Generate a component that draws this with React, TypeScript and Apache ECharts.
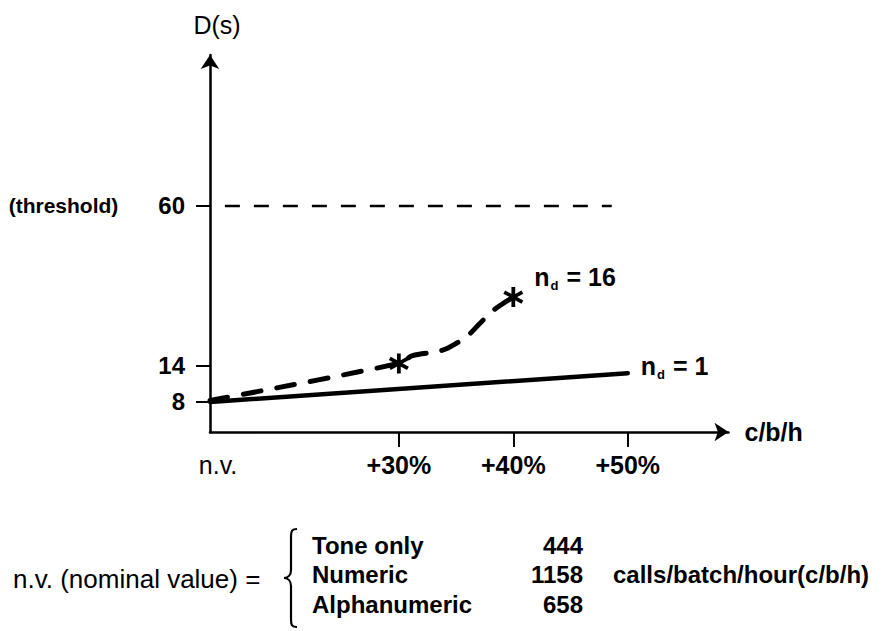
import React, { useEffect, useRef } from 'react';
import * as echarts from 'echarts';

const FONT = '"Liberation Sans", Arial, Helvetica, sans-serif';

// x: increase of the offered load (c/b/h) over the nominal value, in %
// y: delay D in seconds (the axis is drawn on a square-root scale)
const xTickValues = [0, 30, 40, 50];
const xTickLabels = ['n.v.', '+30%', '+40%', '+50%'];
const xTickMarks = [30, 40, 50];
const yTickValues = [8, 14, 60];
const thresholdValue = 60;
const thresholdLabel = '(threshold)';
const thresholdSpan = [1.3, 48.6];

const nd1X = [0, 50];
const nd1Y = [8, 12.6];

const nd16X = [0, 30, 31.2, 33.3, 34.3, 35.9, 37, 38.3, 40];
const nd16Y = [8.2, 14.4, 15.9, 16.7, 17.5, 19.9, 22.8, 26.4, 29.8];
const nd16Stars = [30, 40];

const nvRows = ['Tone only', 'Numeric', 'Alphanumeric'];
const nvValues = [444, 1158, 658];
const nvLead = 'n.v. (nominal value) =';
const nvUnit = 'calls/batch/hour(c/b/h)';

const STAR =
  'path://M8.2 0H11.8V20H8.2Z M2.24 3.44L19.56 13.44L17.76 16.56L0.44 6.56Z M19.56 6.56L2.24 16.56L0.44 13.44L17.76 3.44Z';

const BRACE =
  'M14 1 C9 1 8 3 8 8 L8 42 C8 47 5 50 1 50 C5 50 8 53 8 58 L8 92 C8 97 9 99 14 99';
echarts.graphic.registerShape('brace', echarts.graphic.extendPath(BRACE, {}));

const sq = (v: number) => Math.sqrt(v);
const yMin = 4.3;
const yMax = 133;
const xMin = 0;
const xMax = 58.8;

const ndRich = {
  n: { fontFamily: FONT, fontSize: 25, fontWeight: 'bold', color: '#000' },
  d: { fontFamily: FONT, fontSize: 13, fontWeight: 'bold', color: '#000', padding: [16, 1, 0, 1] },
  t: { fontFamily: FONT, fontSize: 25, fontWeight: 'bold', color: '#000' },
};

const axisLineStyle = { color: '#000', width: 2.5 };

function buildOption() {
  const nd16Data = nd16X.map((x, i) => [x, sq(nd16Y[i])]);
  const starData = nd16Data.filter((p) => nd16Stars.indexOf(p[0]) >= 0);

  const rowY = (i: number) => 545 + i * 29.5;
  const graphics: any[] = [
    {
      type: 'text',
      x: 13,
      y: 579,
      style: { text: nvLead, fontFamily: FONT, fontSize: 26, fontWeight: 'normal', fill: '#000', align: 'left', verticalAlign: 'middle' },
    },
    {
      type: 'brace',
      x: 283,
      y: 528,
      style: { fill: 'none', stroke: '#000', lineWidth: 2.2 },
    },
    {
      type: 'text',
      x: 613,
      y: 574,
      style: { text: nvUnit, fontFamily: FONT, fontSize: 24, fontWeight: 'bold', fill: '#000', align: 'left', verticalAlign: 'middle' },
    },
  ];
  nvRows.forEach((r, i) => {
    graphics.push({
      type: 'text',
      x: 312,
      y: rowY(i),
      style: { text: r, fontFamily: FONT, fontSize: 24, fontWeight: 'bold', fill: '#000', align: 'left', verticalAlign: 'middle' },
    });
    graphics.push({
      type: 'text',
      x: 583,
      y: rowY(i),
      style: { text: String(nvValues[i]), fontFamily: FONT, fontSize: 24, fontWeight: 'bold', fill: '#000', align: 'right', verticalAlign: 'middle' },
    });
  });

  return {
    animation: false,
    backgroundColor: '#fff',
    textStyle: { fontFamily: FONT, color: '#000' },
    grid: { left: 210, right: 156.5, top: 55, bottom: 199 },
    xAxis: [
      {
        type: 'value',
        min: xMin,
        max: xMax,
        position: 'bottom',
        breaks: [{ start: 2, end: 28, gap: 12.5 }],
        breakArea: { show: false },
        axisLine: { show: false, onZero: false },
        axisTick: { show: true, customValues: xTickMarks, length: 15, lineStyle: { color: '#000', width: 2 } },
        axisLabel: {
          customValues: xTickValues,
          margin: 20,
          formatter: (v: number) => {
            const i = xTickValues.indexOf(Math.round(v));
            if (i < 0) return '';
            return i === 0 ? `{nv|${xTickLabels[i]}}` : `{b|${xTickLabels[i]}}`;
          },
          rich: {
            nv: { fontFamily: FONT, fontSize: 25, fontWeight: 'normal', color: '#000', padding: [0, 0, 0, 16] },
            b: { fontFamily: FONT, fontSize: 25, fontWeight: 'bold', color: '#000' },
          },
        },
        splitLine: { show: false },
      },
      {
        // continuous axis line with the arrow, drawn over the broken scale
        type: 'value',
        min: xMin,
        max: xMax,
        position: 'bottom',
        name: 'c/b/h',
        nameLocation: 'end',
        nameGap: 16,
        nameTextStyle: { fontFamily: FONT, fontSize: 25, fontWeight: 'bold', color: '#000', align: 'left', verticalAlign: 'middle' },
        axisLine: { show: true, onZero: false, symbol: ['none', 'arrow'], symbolSize: [14, 14], lineStyle: axisLineStyle },
        axisTick: { show: false },
        axisLabel: { show: false },
        splitLine: { show: false },
      },
    ],
    yAxis: {
      type: 'value',
      min: sq(yMin),
      max: sq(yMax),
      name: 'D(s)',
      nameLocation: 'end',
      nameGap: 18,
      nameTextStyle: { fontFamily: FONT, fontSize: 25, fontWeight: 'normal', color: '#000', padding: [0, 0, 0, 14] },
      axisLine: { show: true, onZero: false, symbol: ['none', 'arrow'], symbolSize: [14, 14], lineStyle: axisLineStyle },
      axisTick: { show: true, customValues: yTickValues.map(sq), length: 14, lineStyle: { color: '#000', width: 2 } },
      axisLabel: {
        customValues: yTickValues.map(sq),
        margin: 25,
        fontFamily: FONT,
        fontWeight: 'bold',
        fontSize: 24,
        color: '#000',
        formatter: (v: number) => {
          const d = Math.round(v * v);
          return d === thresholdValue ? `{t|${thresholdLabel}}{b|${d}}` : `{b|${d}}`;
        },
        rich: {
          t: { fontFamily: FONT, fontSize: 21, fontWeight: 'bold', color: '#000', padding: [0, 40, 0, 0] },
          b: { fontFamily: FONT, fontSize: 24, fontWeight: 'bold', color: '#000' },
        },
      },
      splitLine: { show: false },
    },
    series: [
      {
        type: 'line',
        name: 'threshold',
        data: thresholdSpan.map((x) => [x, sq(thresholdValue)]),
        symbol: 'none',
        silent: true,
        lineStyle: { color: '#000', width: 2.5, type: [15, 14] },
      },
      {
        type: 'line',
        name: 'nd1',
        data: nd1X.map((x, i) => [x, sq(nd1Y[i])]),
        symbol: 'none',
        silent: true,
        lineStyle: { color: '#000', width: 4.5, cap: 'round' },
        endLabel: {
          show: true,
          formatter: () => '{n|n}{d|d}{t| = 1}',
          offset: [5, -7],
          rich: ndRich,
        },
      },
      {
        type: 'line',
        name: 'nd16',
        data: nd16Data,
        smooth: 0.3,
        symbol: 'none',
        silent: true,
        lineStyle: { color: '#000', width: 5, type: [18, 16], cap: 'round' },
        endLabel: {
          show: true,
          formatter: () => '{n|n}{d|d}{t| = 16}',
          offset: [13, -20],
          rich: ndRich,
        },
      },
      {
        type: 'scatter',
        name: 'stars',
        data: starData,
        symbol: STAR,
        symbolSize: 20,
        silent: true,
        itemStyle: { color: '#000', opacity: 1 },
      },
    ],
    graphic: graphics,
  };
}

export default function App() {
  const ref = useRef<HTMLDivElement>(null);
  useEffect(() => {
    const chart = echarts.init(ref.current!, null, { renderer: 'svg' });
    chart.setOption(buildOption() as any);
    return () => chart.dispose();
  }, []);
  return (
    <div
      ref={ref}
      style={{ position: 'fixed', left: 0, top: 0, width: 885, height: 631, background: '#fff' }}
    />
  );
}
